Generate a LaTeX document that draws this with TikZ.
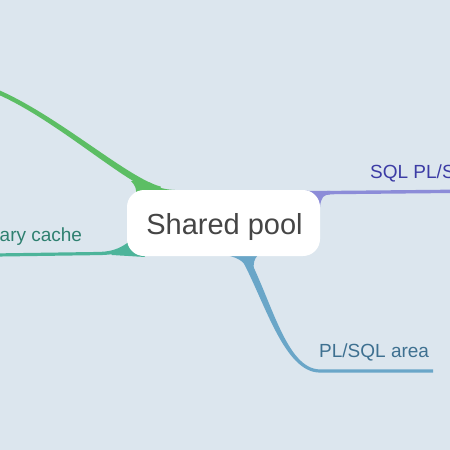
\documentclass[tikz,border=0pt]{standalone}
\usepackage{fontspec}
\setmainfont{Liberation Sans}
\definecolor{bgc}{HTML}{DCE6EE}
\definecolor{gline}{HTML}{5CBE64}
\definecolor{tline}{HTML}{4DB49A}
\definecolor{ttext}{HTML}{2E8070}
\definecolor{pline}{HTML}{8C8CD8}
\definecolor{ptext}{HTML}{3C3CA5}
\definecolor{bline}{HTML}{6AA6C8}
\definecolor{btext}{HTML}{3E7090}
\definecolor{ntext}{HTML}{454545}
\tikzset{
  centerbox/.style={fill=white, rounded corners=17pt, minimum width=193pt, minimum height=66pt, inner sep=0pt},
  centertext/.style={font=\fontsize{29}{34}\selectfont, text=ntext, inner sep=0pt, anchor=base},
  lab/.style={font=\fontsize{19}{22}\selectfont, inner sep=0pt, anchor=base west},
}
\begin{document}
\begin{tikzpicture}[x=1pt,y=-1pt]
\fill[bgc] (0,0) rectangle (450,450);
\useasboundingbox (0,0) rectangle (450,450);
% green branch (up-left)
\fill[gline] (160.85,186.6) .. controls (128.85,178.6) and (60.9,118) .. (0.9,91) -- (-10,86.5) -- (-10,91) -- (-0.9,95) .. controls (59.1,122) and (127.15,185.4) .. (159.15,193.4) -- cycle;
\fill[gline] (131,181) .. controls (135,185) and (137,189) .. (136,196) -- (175,198) -- (175,190) .. controls (165,189.5) and (158,188) .. (150,182.6) -- cycle;
% teal branch (left)
\fill[tline] (-5,253.4) -- (100,251.9) .. controls (114,251.4) and (122,247.5) .. (133,238.8) -- (137,243.2) .. controls (126,252.5) and (116,254.6) .. (100,255.1) -- (-5,256.6) -- cycle;
\fill[tline] (110,251.6) .. controls (120,250.8) and (126,248) .. (129,243) -- (140,243) -- (145,257) -- (112,255) -- cycle;
% purple branch (right)
\fill[pline] (309.5,198) .. controls (316,191.5) and (322,190.8) .. (336,190.8) -- (455,189.6) -- (455,193) -- (336,194.2) .. controls (324,194.2) and (320,196.5) .. (314.5,202) -- cycle;
\fill[pline] (303,190.5) .. controls (310,191) and (315,190.8) .. (330,190.8) -- (330,194.2) .. controls (324,194.5) and (321,197) .. (320,207) -- (300,207) -- cycle;
% blue branch (down-right)
\fill[bline] (247.1,254.3) .. controls (271.1,298.3) and (286,369.4) .. (320,369.4) -- (433,369.4) -- (433,372.6) -- (320,372.6) .. controls (284,372.6) and (264.9,301.7) .. (240.9,257.7) -- cycle;
\fill[bline] (226,255) .. controls (240,258) and (246,263) .. (248.5,272) -- (254,270) .. controls (253,264) and (254,259) .. (258,255) -- cycle;
% central node
\node[centerbox] (ctr) at (223.5,223) {};
\node[centertext] (ctrtxt) at (224.5,234) {Shared pool};
% labels
\node[lab, text=ttext] (lib) at (-0.5,241.7) {ary cache};
\node[lab, text=ptext] (sql) at (370,178.3) {SQL PL/S};
\node[lab, text=btext] (plsql) at (319,357) {PL/SQL area};
\end{tikzpicture}
\end{document}
